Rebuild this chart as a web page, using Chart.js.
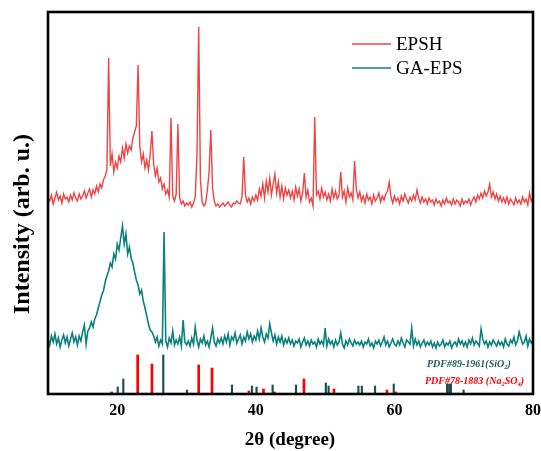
<!DOCTYPE html>
<html>
<head>
<meta charset="utf-8">
<script src="https://cdn.jsdelivr.net/npm/chart.js@4.4.1/dist/chart.umd.min.js"></script>
<style>
    html, body { margin: 0; padding: 0; background: #fff; }
    canvas { display: block; }
</style>
</head>
<body>
<canvas id="xrdChart" width="541" height="451"></canvas>
<script>
// ---- XRD patterns: EPSH vs GA-EPS with reference cards ----

// 2θ grid of the scans (start / step, degrees)
const START_ANGLE = 10;
const STEP_ANGLE = 0.25;

// intensities, one row = 5 degrees
const epshIntensity = [
    197, 193, 199, 190, 196, 202, 194, 198, 191, 200, 195, 197, 192, 199, 194, 201, 196, 193, 200, 195,
    198, 203, 196, 201, 205, 197, 204, 200, 208, 202, 210, 206, 214, 218, 224, 336, 228, 240, 222, 232,
    226, 238, 232, 246, 236, 250, 241, 248, 244, 256, 262, 268, 329, 248, 232, 240, 226, 234, 224, 240,
    263, 230, 218, 226, 212, 216, 205, 210, 200, 204, 197, 276, 198, 193, 200, 270, 196, 190, 193, 188,
    191, 189, 192, 187, 191, 197, 238, 367, 214, 192, 188, 191, 204, 222, 264, 206, 193, 188, 190, 187,
    189, 191, 188, 190, 192, 189, 187, 191, 190, 193, 191, 190, 197, 237, 199, 192, 196, 190, 197, 193,
    199, 194, 205, 198, 210, 196, 213, 202, 216, 199, 210, 220, 201, 212, 197, 208, 195, 206, 199, 204,
    196, 203, 194, 207, 198, 205, 193, 201, 221, 197, 204, 192, 196, 188, 277, 199, 203, 195, 206, 197,
    202, 194, 200, 193, 205, 196, 203, 195, 199, 222, 197, 203, 192, 206, 197, 201, 194, 233, 205, 196,
    202, 193, 198, 191, 200, 194, 197, 190, 199, 193, 196, 201, 192, 198, 194, 200, 203, 212, 197, 191,
    198, 193, 196, 190, 198, 193, 200, 195, 191, 197, 193, 199, 194, 204, 196, 191, 197, 192, 195, 190,
    196, 192, 194, 189, 195, 191, 193, 188, 194, 190, 196, 191, 193, 189, 195, 190, 194, 192, 188, 195,
    190, 193, 191, 195, 189, 194, 197, 192, 199, 195, 201, 196, 203, 198, 202, 210, 197, 202, 195, 200,
    193, 198, 192, 196, 191, 197, 190, 195, 192, 189, 196, 191, 194, 190, 197, 192, 195, 189, 201, 193, 196
];

const gaepsIntensity = [
    55, 49, 58, 52, 60, 50, 56, 47, 54, 59, 51, 57, 48, 55, 61, 52, 57, 49, 58, 53,
    62, 69, 50, 63, 66, 72, 67, 75, 79, 86, 92, 99, 103, 112, 118, 123, 131, 127, 140, 135,
    150, 144, 156, 168, 150, 160, 140, 147, 136, 131, 122, 114, 109, 100, 104, 93, 86, 78, 70, 64,
    62, 58, 52, 57, 48, 54, 50, 162, 53, 47, 56, 51, 63, 49, 54, 50, 57, 48, 74, 52,
    49, 53, 48, 56, 50, 67, 54, 47, 55, 51, 58, 49, 53, 47, 56, 66, 52, 48, 55, 51,
    56, 50, 58, 52, 60, 49, 57, 54, 61, 51, 55, 59, 50, 57, 53, 62, 55, 60, 52, 58,
    54, 63, 55, 66, 57, 52, 60, 56, 70, 61, 53, 59, 50, 57, 52, 58, 49, 55, 51, 56,
    50, 54, 48, 53, 51, 55, 47, 52, 56, 49, 53, 48, 54, 50, 52, 47, 55, 50, 53, 49,
    66, 48, 55, 50, 53, 47, 54, 49, 52, 61, 50, 46, 53, 49, 55, 51, 48, 54, 50, 52,
    49, 53, 47, 52, 50, 55, 48, 51, 46, 53, 50, 54, 48, 52, 57, 49, 53, 47, 51, 55,
    50, 48, 53, 49, 56, 51, 47, 54, 52, 50, 66, 48, 55, 49, 53, 47, 51, 54, 48, 52,
    49, 53, 47, 51, 46, 52, 48, 50, 54, 47, 51, 49, 53, 46, 50, 52, 48, 55, 50, 53,
    48, 52, 47, 54, 50, 56, 49, 53, 51, 48, 65, 55, 50, 53, 47, 52, 49, 54, 51, 48,
    53, 49, 52, 47, 55, 50, 48, 54, 51, 57, 49, 53, 62, 56, 50, 52, 58, 48, 55, 51, 54
];

// standard cards (stick patterns)
const sio2Angles = [20.06, 20.87, 26.64, 30.06, 36.55, 39.44, 40.1, 42.42, 45.79, 50.1, 50.5, 54.8, 55.3, 57.2, 59.9, 67.6, 67.9, 68.15, 69.98];
const sio2Heights = [7, 15, 39, 4, 9, 8, 7, 9, 9, 11, 8, 8, 8, 8, 10, 10, 10, 10, 4];
const na2so4Angles = [19.19, 22.94, 25.0, 31.75, 33.67, 39.0, 41.1, 42.7, 46.94, 51.27, 58.92, 60.2];
const na2so4Heights = [2, 39, 30, 29, 26, 3, 5, 2, 15, 5, 4, 2];

const X_TICKS = [20, 40, 60, 80];

const COLORS = {
    epsh: '#f04343',
    gaeps: '#0b827d',
    sio2: '#1f4f4d',
    sio2Text: '#1d5e5b',
    na2so4: '#ff0000',
};

const SERIF = "'Liberation Serif', 'DejaVu Serif', serif";

function toPoints(values) {
    return values.map((v, i) => ({ x: START_ANGLE + i * STEP_ANGLE, y: v }));
}

function toSticks(angles, heights) {
    return angles.map((a, i) => ({ x: a, y: heights[i] }));
}

// text with subscripts, parts = [[text, isSub], ...]
function drawRich(ctx, parts, x, y, size) {
    let cx = x;
    parts.forEach(([t, sub]) => {
        ctx.font = `italic bold ${sub ? size * 0.65 : size}px ${SERIF}`;
        ctx.fillText(t, cx, sub ? y + size * 0.22 : y);
        cx += ctx.measureText(t).width;
    });
}

const decorPlugin = {
    id: 'decor',
    afterDraw(chart) {
        const { ctx, chartArea: a } = chart;
        ctx.save();

        // frame
        ctx.strokeStyle = '#000';
        ctx.lineWidth = 2.6;
        ctx.strokeRect(a.left, a.top, a.right - a.left, a.bottom - a.top);

        // legend
        ctx.lineWidth = 1.5;
        [['EPSH', COLORS.epsh, 44], ['GA-EPS', COLORS.gaeps, 68]].forEach(([label, color, y]) => {
            ctx.strokeStyle = color;
            ctx.beginPath();
            ctx.moveTo(352, y);
            ctx.lineTo(391, y);
            ctx.stroke();
            ctx.fillStyle = '#000';
            ctx.font = `19px ${SERIF}`;
            ctx.textBaseline = 'middle';
            ctx.textAlign = 'left';
            ctx.fillText(label, 396, y + 1);
        });

        // card labels
        ctx.textBaseline = 'alphabetic';
        ctx.fillStyle = COLORS.sio2Text;
        drawRich(ctx, [['PDF#89-1961(SiO', false], ['2', true], [')', false]], 427, 367, 10);
        ctx.fillStyle = COLORS.na2so4;
        drawRich(ctx, [['PDF#78-1883 (Na', false], ['2', true], ['SO', false], ['4', true], [')', false]], 425, 384, 10);

        // axis titles
        ctx.fillStyle = '#000';
        ctx.textAlign = 'center';
        ctx.textBaseline = 'middle';
        ctx.font = `bold 19px ${SERIF}`;
        ctx.fillText('2θ (degree)', 290, 440);

        ctx.translate(23, 224);
        ctx.rotate(-Math.PI / 2);
        ctx.font = `bold 24px ${SERIF}`;
        ctx.fillText('Intensity (arb. u.)', 0, 0);

        ctx.restore();
    }
};

function renderXrdChart() {
    const ctx = document.getElementById('xrdChart');
    new Chart(ctx, {
        type: 'line',
        data: {
            datasets: [
                {
                    label: 'EPSH', data: toPoints(epshIntensity),
                    borderColor: COLORS.epsh, borderWidth: 1.4, pointRadius: 0, tension: 0,
                },
                {
                    label: 'GA-EPS', data: toPoints(gaepsIntensity),
                    borderColor: COLORS.gaeps, borderWidth: 1.6, pointRadius: 0, tension: 0,
                },
                {
                    type: 'bar', label: 'SiO2', data: toSticks(sio2Angles, sio2Heights),
                    backgroundColor: COLORS.sio2, barThickness: 1.5, grouped: false,
                },
                {
                    type: 'bar', label: 'Na2SO4', data: toSticks(na2so4Angles, na2so4Heights),
                    backgroundColor: COLORS.na2so4, barThickness: 2, grouped: false,
                },
            ]
        },
        options: {
            responsive: false, animation: false, devicePixelRatio: 1,
            layout: { padding: { left: 48, top: 12, right: 8, bottom: 0 } },
            plugins: { legend: { display: false }, tooltip: { enabled: false } },
            scales: {
                x: {
                    type: 'linear', min: 10, max: 80, offset: false,
                    grid: { display: false, drawTicks: false },
                    border: { display: false },
                    afterBuildTicks: s => { s.ticks = X_TICKS.map(v => ({ value: v })); },
                    afterFit: s => { s.height = 57; s.paddingLeft = 0; s.paddingRight = 0; },
                    ticks: {
                        color: '#000', padding: 7, maxRotation: 0, autoSkip: false,
                        font: { family: SERIF, size: 16, weight: 'bold' },
                    },
                },
                y: { display: false, min: 0, max: 382 },
            }
        },
        plugins: [decorPlugin]
    });
}

document.addEventListener('DOMContentLoaded', renderXrdChart);
</script>
</body>
</html>
